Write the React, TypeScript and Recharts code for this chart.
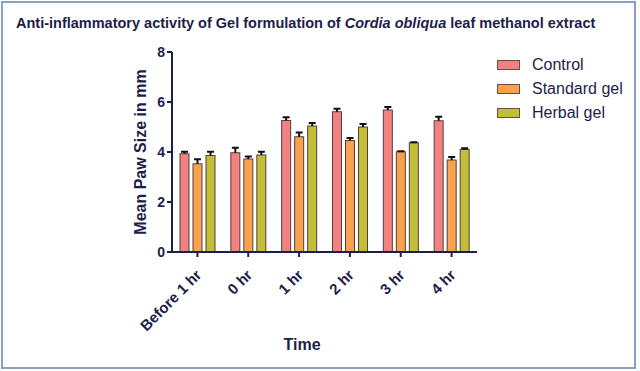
import React from "react";
import { BarChart, Bar, XAxis, YAxis } from "recharts";

const times = ["Before 1 hr", "0 hr", "1 hr", "2 hr", "3 hr", "4 hr"];
const control = [3.93, 3.97, 5.26, 5.61, 5.68, 5.25];
const standardGel = [3.53, 3.72, 4.61, 4.46, 4.01, 3.68];
const herbalGel = [3.86, 3.88, 5.04, 5.0, 4.37, 4.1];
const controlErr = [0.08, 0.2, 0.13, 0.12, 0.12, 0.16];
const standardErr = [0.18, 0.1, 0.17, 0.1, 0.02, 0.12];
const herbalErr = [0.15, 0.13, 0.12, 0.12, 0.02, 0.05];
const yTicks = [0, 2, 4, 6, 8];

const series = [
  { key: "control", name: "Control", color: "#f28282" },
  { key: "standard", name: "Standard gel", color: "#f9a24e" },
  { key: "herbal", name: "Herbal gel", color: "#c1bf38" },
];

const data = times.map((t, i) => ({
  time: t,
  control: control[i],
  standard: standardGel[i],
  herbal: herbalGel[i],
  controlErr: controlErr[i],
  standardErr: standardErr[i],
  herbalErr: herbalErr[i],
}));

const ink = "#1e1e4a";
const font = "'Liberation Sans', Arial, sans-serif";

const TimeTick = (props: any) => {
  const { x, y, payload } = props;
  return (
    <g transform={`translate(${x + 5},${y + 17}) rotate(-45)`}>
      <text textAnchor="end" fill={ink} fontSize={15} fontWeight="bold" fontFamily={font}>
        {payload.value}
      </text>
    </g>
  );
};

// bar with a one-sided (upper) SEM whisker, scaled from the bar's own pixel height
const barWithError = (key: string) => (props: any) => {
  const { x, y, width, height, fill, payload } = props;
  const value = payload[key];
  const err = payload[`${key}Err`];
  const errPx = value ? (err / value) * height : 0;
  const cx = x + width / 2;
  const top = y - errPx;
  return (
    <g>
      <rect x={x} y={y} width={width} height={height} fill={fill} stroke="#5a3c3c" strokeWidth={1} />
      <line x1={cx} y1={y} x2={cx} y2={top} stroke="#111" strokeWidth={2} />
      <line x1={cx - 3.5} y1={top} x2={cx + 3.5} y2={top} stroke="#111" strokeWidth={2} />
    </g>
  );
};

export default function App() {
  return (
    <div
      style={{
        position: "absolute",
        left: 0,
        top: 0,
        width: 640,
        height: 371,
        background: "#fff",
        fontFamily: font,
      }}
    >
      <div
        style={{
          position: "absolute",
          left: 1,
          top: 1,
          width: 635,
          height: 368,
          border: "2px solid #86a0c6",
          boxSizing: "border-box",
        }}
      />
      <div
        style={{
          position: "absolute",
          left: 16,
          top: 15,
          fontSize: 14.5,
          fontWeight: "bold",
          color: ink,
          whiteSpace: "nowrap",
        }}
      >
        Anti-inflammatory activity of Gel formulation of <i>Cordia obliqua</i> leaf methanol extract
      </div>
      <div
        style={{
          position: "absolute",
          left: 141,
          top: 152,
          transform: "translate(-50%, -50%) rotate(-90deg)",
          fontSize: 16,
          fontWeight: "bold",
          color: ink,
          whiteSpace: "nowrap",
        }}
      >
        Mean Paw Size in mm
      </div>
      <div
        style={{
          position: "absolute",
          left: 302,
          top: 345,
          transform: "translate(-50%, -50%)",
          fontSize: 16,
          fontWeight: "bold",
          color: ink,
        }}
      >
        Time
      </div>
      <div style={{ position: "absolute", left: 497, top: 53 }}>
        {series.map((s) => (
          <div key={s.key} style={{ display: "flex", alignItems: "center", height: 24 }}>
            <span
              style={{
                display: "inline-block",
                width: 21,
                height: 8,
                background: s.color,
                border: "1px solid #6b4a4a",
                marginRight: 12,
              }}
            />
            <span style={{ fontSize: 16, color: ink }}>{s.name}</span>
          </div>
        ))}
      </div>
      <BarChart
        width={640}
        height={371}
        data={data}
        margin={{ top: 52, right: 163, left: 0, bottom: 59 }}
        barSize={9}
        barGap={4}
      >
        <YAxis
          width={172}
          domain={[0, 8]}
          ticks={yTicks}
          stroke={ink}
          strokeWidth={2}
          tickSize={5}
          tickMargin={2}
          tick={{ fill: ink, fontSize: 14, fontWeight: "bold", fontFamily: font }}
        />
        <XAxis
          dataKey="time"
          height={60}
          stroke={ink}
          strokeWidth={2}
          tickSize={5}
          interval={0}
          tick={<TimeTick />}
        />
        {series.map((s) => (
          <Bar
            key={s.key}
            dataKey={s.key}
            name={s.name}
            fill={s.color}
            shape={barWithError(s.key)}
            isAnimationActive={false}
          />
        ))}
      </BarChart>
    </div>
  );
}
